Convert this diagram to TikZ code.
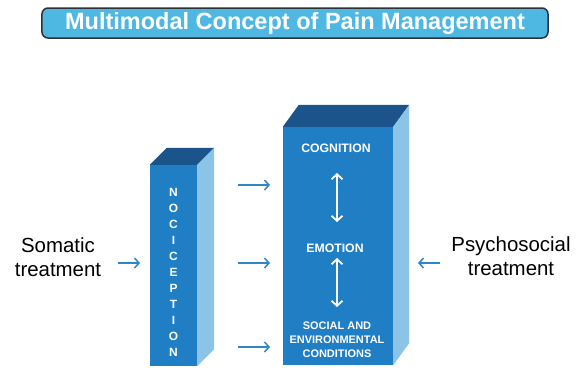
\documentclass[tikz,border=0pt]{standalone}
\usepackage{fontspec}
\setmainfont{Liberation Sans}
\usetikzlibrary{arrows.meta}
\definecolor{frontblue}{RGB}{31,126,196}
\definecolor{topblue}{RGB}{27,84,138}
\definecolor{sideblue}{RGB}{140,196,232}
\definecolor{titlefill}{RGB}{78,184,226}
\definecolor{titleborder}{RGB}{45,50,55}
\definecolor{arrowblue}{RGB}{46,136,200}
\tikzset{
  frontface/.style={fill=frontblue, draw=none, inner sep=0pt},
  topface/.style={fill=topblue, draw=none},
  sideface/.style={fill=sideblue, draw=none},
  flowarrow/.style={draw=arrowblue, line width=1.5bp, -{Straight Barb[length=4.5bp,width=10bp,line width=1.5bp]}},
  innerarrow/.style={draw=white, line width=1.8bp, {Straight Barb[length=5bp,width=11bp,line width=1.8bp]}-{Straight Barb[length=5bp,width=11bp,line width=1.8bp]}},
  sidelabel/.style={align=center, font=\fontsize{20.5}{24}\selectfont, text=black},
  boxlabel/.style={align=center, text=white, font=\bfseries\fontsize{12.3}{14}\selectfont},
  smalllabel/.style={align=center, text=white, font=\bfseries\fontsize{11}{14}\selectfont},
}
\begin{document}
\begin{tikzpicture}[x=1bp,y=-1bp]
\useasboundingbox (0,0) rectangle (576,370);
\fill[white] (0,0) rectangle (576,370);

% title
\node[draw=titleborder, line width=1.5bp, fill=titlefill, rounded corners=6bp,
      minimum width=506bp, minimum height=30bp, inner sep=0pt,
      text=white, font=\bfseries\fontsize{23.6}{26}\selectfont] (title) at (295,23)
      {Multimodal Concept of Pain Management};

% nociception pillar
\node[frontface, minimum width=47bp, minimum height=201bp] (noci) at (173.5,265.5) {};
\fill[topface] (noci.north west) -- ++(17,-17) -- ([xshift=17bp,yshift=17bp]noci.north east) -- (noci.north east) -- cycle;
\fill[sideface] (noci.north east) -- ++(17,-17) -- ([xshift=17bp,yshift=17bp]noci.south east) -- (noci.south east) -- cycle;
\node[text=white, align=center, font=\bfseries\fontsize{12}{16.1}\selectfont] (nocitext) at (173.5,272.5)
  {N\\O\\C\\I\\C\\E\\P\\T\\I\\O\\N};

% main pillar
\node[frontface, minimum width=110bp, minimum height=238bp] (main) at (338,246) {};
\fill[topface] (main.north west) -- ++(16,-22) -- ([xshift=16bp,yshift=22bp]main.north east) -- (main.north east) -- cycle;
\fill[sideface] (main.north east) -- ++(16,-22) -- ([xshift=16bp,yshift=22bp]main.south east) -- (main.south east) -- cycle;

\node[boxlabel] (cog) at (336,148) {COGNITION};
\node[boxlabel] (emo) at (335,248) {EMOTION};
\node[smalllabel] (soc) at (337,340) {SOCIAL AND\\ENVIRONMENTAL\\CONDITIONS};
\coordinate (c1a) at (337,173);
\coordinate (c1b) at (337,222);
\coordinate (c2a) at (337,258);
\coordinate (c2b) at (337,307);
\draw[innerarrow] (c1a) -- (c1b);
\draw[innerarrow] (c2a) -- (c2b);

% side labels
\node[sidelabel] (somatic) at (58,257) {Somatic\\treatment};
\node[sidelabel] (psycho) at (511,256) {Psychosocial\\treatment};

% arrows
\coordinate (s1) at (118,263);
\coordinate (s2) at (140,263);
\draw[flowarrow] (s1) -- (s2);
\coordinate (p1) at (440,263);
\coordinate (p2) at (418,263);
\draw[flowarrow] (p1) -- (p2);
\coordinate (m1a) at (238,185);
\coordinate (m1b) at (270,185);
\coordinate (m2a) at (238,263);
\coordinate (m2b) at (270,263);
\coordinate (m3a) at (238,347);
\coordinate (m3b) at (270,347);
\draw[flowarrow] (m1a) -- (m1b);
\draw[flowarrow] (m2a) -- (m2b);
\draw[flowarrow] (m3a) -- (m3b);
\end{tikzpicture}
\end{document}
